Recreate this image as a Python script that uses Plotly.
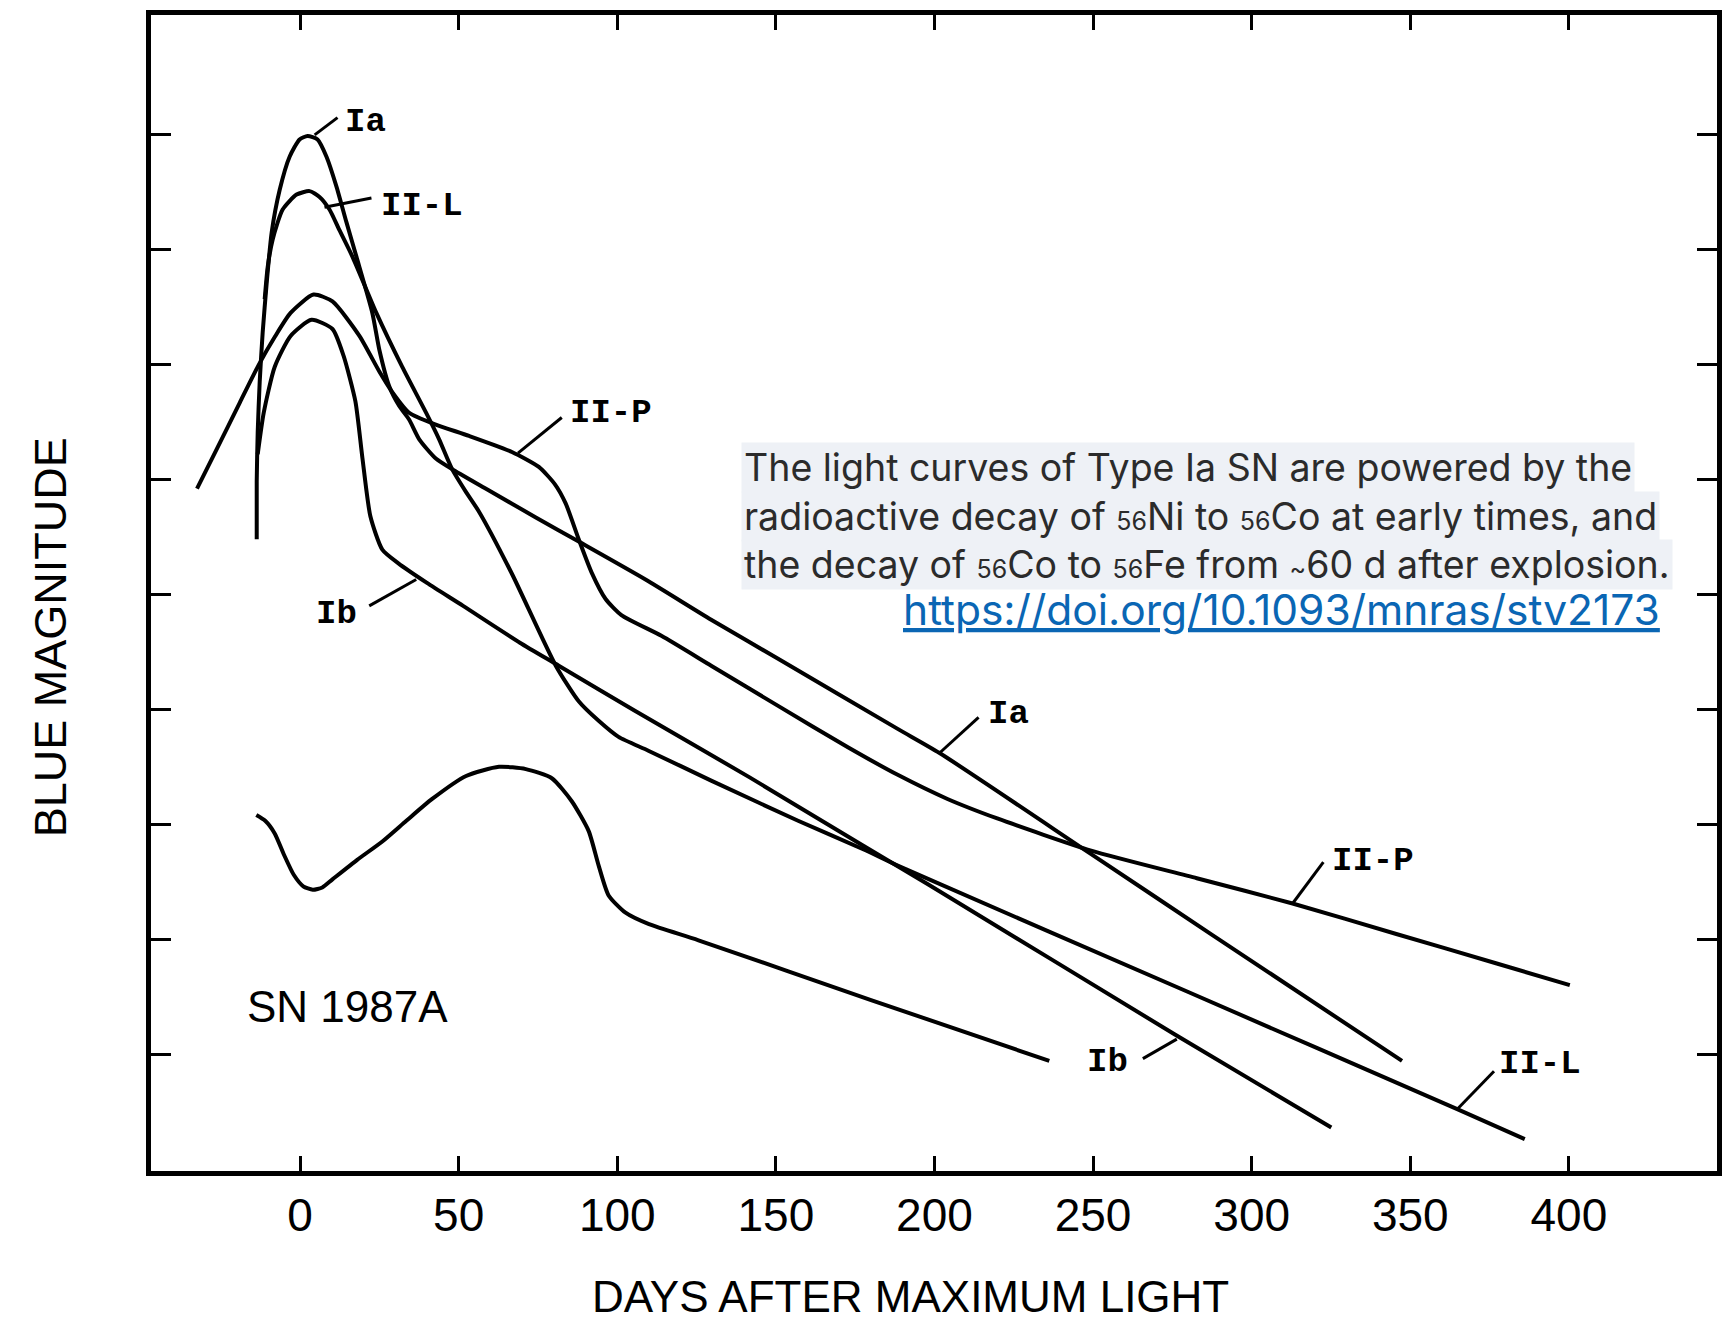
import plotly.graph_objects as go

# ---- light-curve data: days after maximum light vs blue magnitude (1 mag per tick) ----
ia_days = [-13.67, -13.67, -13.36, -12.73, -11.79, -10.53, -8.96, -6.44, -3.30, -0.16, 2.36,
           5.50, 8.33, 11.47, 14.61, 17.76, 22.78, 24.98, 28.13, 31.27, 34.41, 37.56, 42.90,
           47.93, 58.61, 74.33, 87.84, 108.9, 129.6, 150.7, 188.4, 201.6, 249.4, 287.4, 347.4]
ia_mag = [3.52, 3.02, 2.59, 2.15, 1.72, 1.29, 0.85, 0.48, 0.19, 0.04, 0.01,
          0.04, 0.19, 0.45, 0.76, 1.06, 1.55, 1.87, 2.19, 2.36, 2.48, 2.65, 2.82,
          2.91, 3.08, 3.33, 3.54, 3.87, 4.22, 4.56, 5.17, 5.38, 6.26, 6.96, 8.06]

iil_days = [-11.16, -10.21, -8.64, -5.50, -1.10, 2.99, 6.13, 9.27, 12.41, 16.50, 24.04, 32.21,
            39.75, 43.84, 47.93, 52.33, 56.41, 66.78, 80.61, 87.84, 94.13, 100.4, 109.8, 129.6,
            157.0, 177.7, 188.4, 280.0, 364.8, 386.1]
iil_mag = [1.43, 1.15, 0.91, 0.65, 0.52, 0.49, 0.54, 0.65, 0.83, 1.06, 1.55, 2.02,
           2.42, 2.65, 2.91, 3.11, 3.28, 3.82, 4.62, 4.93, 5.10, 5.24, 5.36, 5.62,
           5.97, 6.22, 6.36, 7.46, 8.48, 8.74]

iip_days = [-32.5, -26.0, -19.0, -13.0, -8.0, -3.0, 4.24, 10.21, 18.70, 24.98, 29.07,
            34.41, 42.58, 53.27, 66.78, 75.27, 80.30, 83.76, 87.84, 91.92, 96.32, 101.3,
            113.9, 129.6, 150.7, 172.7, 188.4, 204.1, 219.8, 249.4, 282.7, 312.9, 345.6,
            377.0, 400.3]
iip_mag = [3.08, 2.72, 2.33, 2.00, 1.76, 1.55, 1.39, 1.45, 1.75, 2.06, 2.24,
           2.42, 2.52, 2.62, 2.76, 2.89, 3.04, 3.21, 3.52, 3.81, 4.04, 4.18,
           4.36, 4.62, 4.97, 5.33, 5.57, 5.78, 5.95, 6.23, 6.47, 6.69, 6.955,
           7.21, 7.40]

ib_days = [-13.36, -11.47, -8.01, -2.99, 3.61, 10.21, 13.67, 17.44, 19.64, 22.16, 25.93,
           31.0, 40.0, 51.39, 69.30, 81.55, 105.4, 141.6, 177.7, 197.8, 275.8, 325.1]
ib_mag = [2.78, 2.42, 2.02, 1.75, 1.61, 1.69, 1.92, 2.32, 2.81, 3.32, 3.61,
          3.73, 3.90, 4.10, 4.42, 4.62, 5.01, 5.59, 6.19, 6.52, 7.83, 8.64]

sn87a_days = [-13.8, -11.0, -8.0, -5.0, -2.0, 1.0, 4.0, 7.0, 10.2, 18.0, 25.93, 33.5, 41.64,
              52.33, 62.70, 71.19, 79.36, 85.65, 90.99, 94.13, 97.27, 102.6, 110.0, 125.6,
              180.0, 236.2]
sn87a_mag = [5.92, 5.97, 6.08, 6.27, 6.44, 6.54, 6.57, 6.55, 6.48, 6.31, 6.15, 5.97, 5.78,
             5.58, 5.50, 5.52, 5.60, 5.80, 6.06, 6.36, 6.62, 6.77, 6.87, 7.01,
             7.53, 8.06]

x_ticks = [0, 50, 100, 150, 200, 250, 300, 350, 400]
y_ticks = [0, 1, 2, 3, 4, 5, 6, 7, 8]

curves = [
    ("Ia", ia_days, ia_mag),
    ("II-L", iil_days, iil_mag),
    ("II-P", iip_days, iip_mag),
    ("Ib", ib_days, ib_mag),
    ("SN 1987A", sn87a_days, sn87a_mag),
]

# plot-area geometry in pixels, used to place free text in paper units
PLOT_L, PLOT_R, PLOT_T, PLOT_B = 151, 1722, 15, 1171


def paper_x(px):
    return (px - PLOT_L) / (PLOT_R - PLOT_L)


def paper_y(py):
    return (PLOT_B - py) / (PLOT_B - PLOT_T)


fig = go.Figure()
for name, xs, ys in curves:
    fig.add_trace(go.Scatter(
        x=xs, y=ys, mode="lines", name=name,
        line=dict(color="black", width=4, shape="spline", smoothing=0.6),
        hoverinfo="skip",
    ))

# curve labels: (text, label centre, pointer start on curve, pointer end near label)
curve_labels = [
    ("Ia",   (20.6, -0.11), (4.6, 0.00),   (11.8, -0.15)),
    ("II-L", (38.5, 0.62),  (7.7, 0.63),   (22.5, 0.55)),
    ("II-P", (98.0, 2.42),  (68.7, 2.77),  (82.5, 2.46)),
    ("Ib",   (11.6, 4.17),  (36.6, 3.87),  (21.8, 4.10)),
    ("Ia",   (223.3, 5.04), (201.6, 5.38), (213.9, 5.07)),
    ("II-P", (338.3, 6.32), (312.9, 6.69), (322.6, 6.33)),
    ("Ib",   (254.5, 8.07), (276.4, 7.87), (265.7, 8.04)),
    ("II-L", (390.8, 8.09), (364.8, 8.48), (376.4, 8.15)),
]

label_font = dict(family="Liberation Mono, DejaVu Sans Mono, monospace", size=34, color="black")
annotations = []
shapes = []
for text, (lx, ly), (px0, py0), (px1, py1) in curve_labels:
    annotations.append(dict(x=lx, y=ly, xref="x", yref="y", text=f"<b>{text}</b>",
                            showarrow=False, font=label_font))
    shapes.append(dict(type="line", xref="x", yref="y", x0=px0, y0=py0, x1=px1, y1=py1,
                       line=dict(color="black", width=3)))

annotations.append(dict(x=14.9, y=7.585, xref="x", yref="y", text="SN 1987A",
                        showarrow=False,
                        font=dict(family="Liberation Sans, Arial, sans-serif", size=44,
                                  color="black")))

# axis titles
title_font = dict(family="Liberation Sans, Arial, sans-serif", size=44, color="black")
annotations.append(dict(x=paper_x(913), y=paper_y(1296), xref="paper", yref="paper",
                        xanchor="center", yanchor="middle",
                        text="DAYS AFTER MAXIMUM LIGHT", showarrow=False, font=title_font))
annotations.append(dict(x=paper_x(51), y=paper_y(637), xref="paper", yref="paper",
                        xanchor="center", yanchor="middle",
                        text="BLUE MAGNITUDE", showarrow=False, textangle=-90,
                        font=dict(family="Liberation Sans, Arial, sans-serif", size=45,
                                  color="black")))

# explanatory note with reference
small = '<span style="font-size:25px">{}</span>'
note_lines = [
    "The light curves of Type Ia SN are powered by the",
    "radioactive decay of " + small.format("56") + "Ni to " + small.format("56")
    + "Co at early times, and",
    "the decay of " + small.format("56") + "Co to " + small.format("56") + "Fe from "
    + small.format("~") + "60 d after explosion.",
]
note_font = dict(family="Inter, Liberation Sans, sans-serif", size=37.5, color="#2B2B2B")
for text, py in zip(note_lines, [468, 516, 564]):
    annotations.append(dict(x=paper_x(743), y=paper_y(py), xref="paper", yref="paper",
                            text=text, xanchor="left", yanchor="middle", showarrow=False,
                            bgcolor="#EEF1F6", borderpad=2, font=note_font))

annotations.append(dict(x=paper_x(1667), y=paper_y(610), xref="paper", yref="paper",
                        text='<a href="https://doi.org/10.1093/mnras/stv2173" '
                             'style="color:#0A66B4"><u>https://doi.org/10.1093/mnras/stv2173</u></a>',
                        xanchor="right", yanchor="middle", showarrow=False,
                        font=dict(family="Inter, Liberation Sans, sans-serif", size=42.5,
                                  color="#0A66B4")))

fig.update_layout(
    width=1722, height=1323,
    margin=dict(l=PLOT_L, r=1722 - PLOT_R, t=PLOT_T, b=1323 - PLOT_B),
    paper_bgcolor="white", plot_bgcolor="white",
    showlegend=False,
    annotations=annotations,
    shapes=shapes,
)

fig.update_xaxes(
    range=[-47.0, 446.7], tickvals=x_ticks, ticktext=[str(v) for v in x_ticks],
    showgrid=False, zeroline=False,
    showline=True, linewidth=5, linecolor="black", mirror="ticks",
    ticks="inside", ticklen=15, tickwidth=3, tickcolor="black",
    tickfont=dict(family="Liberation Sans, Arial, sans-serif", size=46, color="black"),
)
fig.update_yaxes(
    range=[9.018, -1.043], tickvals=y_ticks, showticklabels=False,
    showgrid=False, zeroline=False,
    showline=True, linewidth=5, linecolor="black", mirror="ticks",
    ticks="inside", ticklen=20, tickwidth=3, tickcolor="black",
)

fig.write_html("out.html")
